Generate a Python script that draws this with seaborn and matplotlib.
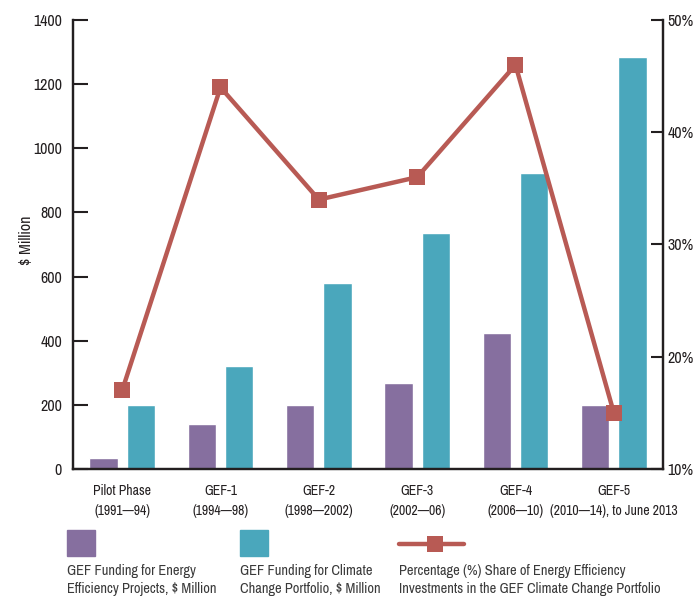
import numpy as np
import pandas as pd
import matplotlib
matplotlib.use("Agg")
import matplotlib.pyplot as plt
import seaborn as sns
from matplotlib import font_manager
from matplotlib.patches import Rectangle
from matplotlib.lines import Line2D

# data
phases = ["Pilot Phase\n(1991—94)", "GEF-1\n(1994—98)", "GEF-2\n(1998—2002)",
          "GEF-3\n(2002—06)", "GEF-4\n(2006—10)", "GEF-5\n(2010—14), to June 2013"]
ee_funding = [34, 140, 200, 268, 424, 200]
cc_funding = [200, 321, 580, 736, 923, 1285]
ee_share = [17.0, 44.0, 34.0, 36.0, 46.0, 15.0]

series_names = ["GEF Funding for Energy\nEfficiency Projects, $ Million",
                "GEF Funding for Climate\nChange Portfolio, $ Million"]
line_name = "Percentage (%) Share of Energy Efficiency\nInvestments in the GEF Climate Change Portfolio"

purple = "#866f9f"
teal = "#4aa7bc"
red = "#b85a54"
ink = "#231f20"

sns.set_style("white")

# the original uses a narrow typeface; take a condensed face if one is installed
fonts = font_manager.fontManager.ttflist
family, stretch, narrow = "Roboto", "normal", False
for f in fonts:
    if "Narrow" in f.name or "Condensed" in f.name:
        family, narrow = f.name, True
        break
if not narrow:
    for f in fonts:
        if str(f.stretch) in ("condensed", "semi-condensed", "extra-condensed", "ultra-condensed"):
            family, stretch, narrow = f.name, f.stretch, True
            break
plt.rcParams["font.family"] = [family, "DejaVu Sans"]
plt.rcParams["font.stretch"] = stretch
k = 1.0 if narrow else 0.85

df = pd.DataFrame({
    "phase": phases * 2,
    "value": ee_funding + cc_funding,
    "series": [series_names[0]] * len(phases) + [series_names[1]] * len(phases),
})
line_df = pd.DataFrame({"pos": np.arange(len(phases)), "share": ee_share})

fig = plt.figure(figsize=(6.94, 5.96), dpi=100)
ax = fig.add_axes([73 / 694, 1 - 469 / 596, 590 / 694, 449 / 596])

sns.barplot(data=df, x="phase", y="value", hue="series", order=phases,
            hue_order=series_names, palette=[purple, teal], width=0.76, gap=0.24,
            saturation=1, ax=ax, legend=False)

ax2 = ax.twinx()
sns.lineplot(data=line_df, x="pos", y="share", ax=ax2, color=red, lw=3.2,
             marker="s", markersize=12, markeredgewidth=0, legend=False)

ax.set_xlim(-0.5, len(phases) - 0.5)
ax.set_ylim(0, 1400)
ax.set_yticks(np.arange(0, 1401, 200))
ax2.set_ylim(10, 50)
ax2.set_yticks([10, 20, 30, 40, 50])
ax2.set_yticklabels([f"{v}%" for v in [10, 20, 30, 40, 50]])

ax.set_xticks(np.arange(len(phases)))
ax.set_xticklabels(phases, fontsize=9.9 * k, linespacing=1.55, color=ink)
ax.set_xticks(np.arange(len(phases) - 1) + 0.5, minor=True)
ax.tick_params(axis="x", which="major", length=0, pad=11)
ax.tick_params(axis="x", which="minor", direction="in", length=7, width=1.5, color=ink)
ax.tick_params(axis="y", direction="in", length=11, width=1.5, color=ink,
               labelsize=11.5 * k, labelcolor=ink, pad=8)
ax2.tick_params(axis="y", direction="in", length=9, width=1.5, color=ink,
                labelsize=11.5 * k, labelcolor=ink, pad=3)
ax.set_xlabel("")
ax.set_ylabel("\\$ Million", fontsize=11.5 * k, color=ink)
ax.yaxis.set_label_coords(-0.066, 0.51)
ax2.set_ylabel("")

for a in (ax, ax2):
    a.spines["top"].set_visible(False)
    for s in ("left", "right", "bottom"):
        a.spines[s].set_color(ink)
        a.spines[s].set_linewidth(1.6)
ax.grid(False)
ax2.grid(False)

# legend laid out along the bottom, as in the original
def px(x, y):
    return x / 694, 1 - y / 596

fig.add_artist(Rectangle(px(67, 556), 28 / 694, 26 / 596, color=purple, transform=fig.transFigure))
fig.add_artist(Rectangle(px(240, 556), 28 / 694, 26 / 596, color=teal, transform=fig.transFigure))
fig.add_artist(Line2D([399 / 694, 464 / 694], [1 - 544 / 596] * 2, color=red, lw=3.2,
                      transform=fig.transFigure))
fig.add_artist(Line2D([435 / 694], [1 - 544 / 596], color=red, marker="s", markersize=12,
                      markeredgewidth=0, transform=fig.transFigure))
for x0, label in [(67, series_names[0]), (240, series_names[1]), (399, line_name)]:
    fig.text(*px(x0, 564), label.replace("$", "\\$"), ha="left", va="top",
             fontsize=10.4 * k, color="#3a3a3a", linespacing=1.35)

fig.savefig("out.png", dpi=100)
